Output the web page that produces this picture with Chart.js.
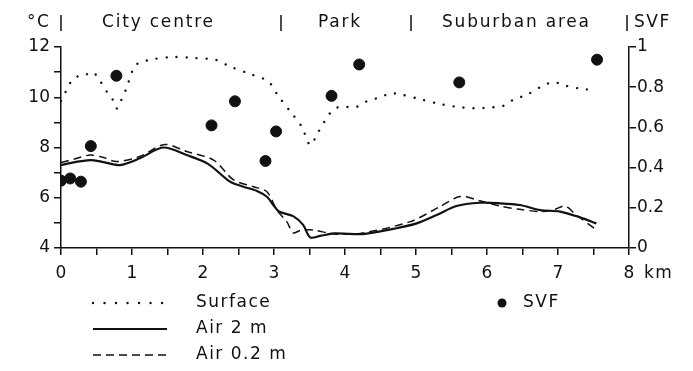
<!DOCTYPE html>
<html>
<head>
<meta charset="utf-8">
<script src="https://cdn.jsdelivr.net/npm/chart.js@4.4.0/dist/chart.umd.min.js"></script>
<style>
  html, body { margin: 0; padding: 0; background: #fff; }
  #wrap { width: 693px; height: 371px; }
</style>
</head>
<body>
<div id="wrap"><canvas id="chart" width="693" height="371"></canvas></div>
<script>
// distance along the traverse (km) and temperatures (°C)
const surfaceKm = [0, 0.08, 0.15, 0.25, 0.35, 0.45, 0.55, 0.65, 0.73, 0.79, 0.85, 0.92, 1.04, 1.16, 1.3, 1.58, 1.89, 2.19, 2.38, 2.66, 2.92, 3.06, 3.23, 3.39, 3.51, 3.62, 3.79, 3.9, 4.16, 4.3, 4.45, 4.65, 4.77, 5.01, 5.29, 5.55, 5.81, 6.09, 6.23, 6.37, 6.56, 6.75, 6.93, 7.12, 7.36, 7.5];
const surfaceTemp = [9.85, 10.3, 10.65, 10.85, 10.9, 11.0, 10.65, 10.2, 9.9, 9.55, 9.9, 10.35, 11.25, 11.42, 11.52, 11.6, 11.56, 11.48, 11.22, 10.93, 10.63, 10.05, 9.43, 8.83, 8.1, 8.6, 9.37, 9.6, 9.62, 9.83, 9.96, 10.15, 10.12, 9.96, 9.76, 9.63, 9.56, 9.6, 9.66, 9.9, 10.1, 10.4, 10.6, 10.45, 10.32, 10.3];

const air2Km = [0, 0.2, 0.41, 0.6, 0.83, 1.11, 1.44, 1.77, 2.07, 2.38, 2.57, 2.76, 2.9, 2.99, 3.07, 3.27, 3.41, 3.51, 3.65, 3.84, 4.07, 4.28, 4.68, 5.01, 5.29, 5.57, 5.9, 6.18, 6.46, 6.75, 7.03, 7.31, 7.54];
const air2Temp = [7.3, 7.42, 7.5, 7.42, 7.3, 7.57, 8.0, 7.7, 7.35, 6.64, 6.44, 6.27, 6.04, 5.71, 5.45, 5.27, 4.92, 4.42, 4.48, 4.58, 4.56, 4.56, 4.76, 4.98, 5.31, 5.67, 5.8, 5.78, 5.71, 5.51, 5.45, 5.22, 4.98];

const air02Km = [0, 0.2, 0.41, 0.6, 0.78, 1.11, 1.46, 1.77, 2.15, 2.43, 2.71, 2.9, 3.04, 3.18, 3.27, 3.37, 3.55, 3.84, 4.21, 4.92, 5.34, 5.62, 5.9, 6.18, 6.46, 6.75, 6.93, 7.1, 7.26, 7.54];
const air02Temp = [7.4, 7.55, 7.7, 7.6, 7.44, 7.64, 8.12, 7.84, 7.5, 6.71, 6.44, 6.24, 5.51, 5.05, 4.6, 4.7, 4.72, 4.56, 4.58, 5.05, 5.65, 6.05, 5.88, 5.67, 5.54, 5.45, 5.51, 5.67, 5.31, 4.72];

// sky view factor points
const svfKm = [0, 0.13, 0.28, 0.42, 0.78, 2.12, 2.45, 2.88, 3.03, 3.81, 4.2, 5.61, 7.55];
const svfVal = [0.335, 0.346, 0.33, 0.507, 0.857, 0.61, 0.73, 0.433, 0.58, 0.757, 0.913, 0.824, 0.937];

// zone labels across the top
const zoneNames = ['City centre', 'Park', 'Suburban area'];
const zoneStartX = [102, 318, 442];
const zoneBarX = [61, 281, 411, 627];

const xLabels = [0, 1, 2, 3, 4, 5, 6, 7, 8];
const tempLabels = [4, 6, 8, 10, 12];
const svfLabels = [0, 0.2, 0.4, 0.6, 0.8, 1];

const pts = (xs, ys) => xs.map((x, i) => ({ x: x, y: ys[i] }));
const FONT = '"DejaVu Sans", sans-serif';
const DOTS = [0.01, 10];

const extras = {
  id: 'extras',
  afterDraw(chart) {
    const c = chart.ctx;
    c.save();
    c.fillStyle = '#111';
    c.strokeStyle = '#111';
    c.textBaseline = 'middle';
    c.font = '17px ' + FONT;
    c.letterSpacing = '1.5px';
    // header
    c.fillText('°C', 27, 23);
    c.letterSpacing = '1.8px';
    zoneNames.forEach((n, i) => c.fillText(n, zoneStartX[i], 23));
    c.letterSpacing = '1.5px';
    c.fillText('SVF', 634, 23);
    c.lineWidth = 1.5;
    zoneBarX.forEach(x => {
      c.beginPath(); c.moveTo(x, 15); c.lineTo(x, 31); c.stroke();
    });
    // km unit
    c.fillText('km', 644, 274);
    // legend
    const rows = [
      { y: 303, dash: [0.01, 11.5], w: 2.4, cap: 'round', text: 'Surface' },
      { y: 329, dash: [], w: 2.2, cap: 'butt', text: 'Air 2 m' },
      { y: 355, dash: [8, 5], w: 1.5, cap: 'butt', text: 'Air 0.2 m' }
    ];
    rows.forEach(r => {
      c.beginPath();
      c.setLineDash(r.dash);
      c.lineWidth = r.w;
      c.lineCap = r.cap;
      c.moveTo(93, r.y); c.lineTo(167, r.y); c.stroke();
      c.setLineDash([]);
      c.fillText(r.text, 196, r.y);
    });
    c.beginPath();
    c.arc(502, 303, 4.5, 0, Math.PI * 2);
    c.fill();
    c.fillText('SVF', 523, 303);
    c.restore();
  }
};

const axisStyle = {
  border: { display: true, color: '#111', width: 1.5 },
  grid: { drawOnChartArea: false, drawTicks: true, tickLength: 7, color: '#111', lineWidth: 1.5 }
};

new Chart(document.getElementById('chart'), {
  type: 'line',
  data: {
    datasets: [
      {
        label: 'Surface',
        data: pts(surfaceKm, surfaceTemp),
        borderColor: '#111', borderWidth: 2.4, borderDash: DOTS, borderCapStyle: 'round',
        pointRadius: 0, tension: 0.3, yAxisID: 'y'
      },
      {
        label: 'Air 2 m',
        data: pts(air2Km, air2Temp),
        borderColor: '#111', borderWidth: 2.2,
        pointRadius: 0, tension: 0.3, yAxisID: 'y'
      },
      {
        label: 'Air 0.2 m',
        data: pts(air02Km, air02Temp),
        borderColor: '#111', borderWidth: 1.5, borderDash: [8, 5],
        pointRadius: 0, tension: 0.3, yAxisID: 'y'
      },
      {
        label: 'SVF',
        data: pts(svfKm, svfVal),
        showLine: false,
        pointRadius: 5.5, pointBackgroundColor: '#111', pointBorderColor: '#111',
        yAxisID: 'y2'
      }
    ]
  },
  options: {
    responsive: false,
    animation: false,
    layout: { padding: { top: 47, left: 0, right: 0, bottom: 0 } },
    plugins: { legend: { display: false }, tooltip: { enabled: false } },
    scales: {
      x: {
        type: 'linear', min: 0, max: 8,
        ...axisStyle,
        afterFit: s => { s.height = 123; },
        afterBuildTicks: s => { s.ticks = []; for (let v = 0; v <= 8; v += 0.5) s.ticks.push({ value: v }); },
        ticks: {
          color: '#111', font: { family: FONT, size: 17 }, padding: 8, maxRotation: 0, autoSkip: false,
          callback: v => xLabels.includes(v) ? String(v) : ''
        }
      },
      y: {
        position: 'left', min: 4, max: 12,
        ...axisStyle,
        afterFit: s => { s.width = 61; },
        afterBuildTicks: s => { s.ticks = []; for (let v = 4; v <= 12; v += 1) s.ticks.push({ value: v }); },
        ticks: {
          color: '#111', font: { family: FONT, size: 17 }, padding: 4, autoSkip: false,
          callback: v => tempLabels.includes(v) ? String(v) : ''
        }
      },
      y2: {
        position: 'right', min: 0, max: 1,
        ...axisStyle,
        afterFit: s => { s.width = 64; },
        afterBuildTicks: s => { s.ticks = svfLabels.map(v => ({ value: v })); },
        ticks: {
          color: '#111', font: { family: FONT, size: 17 }, padding: 1, autoSkip: false,
          callback: v => v === 0 || v === 1 ? String(v) : v.toFixed(1)
        }
      }
    }
  },
  plugins: [extras]
});
</script>
</body>
</html>
